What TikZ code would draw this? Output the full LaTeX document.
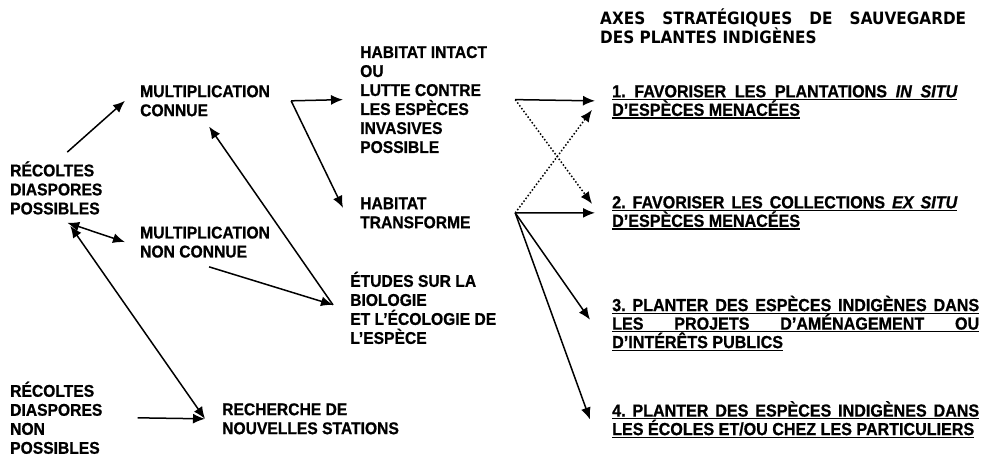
\documentclass[tikz,border=0pt]{standalone}
\usepackage{fontspec}
\setmainfont{Liberation Sans}[FakeStretch=0.92, BoldFeatures={FakeBold=0.8}]
\newfontfamily\headfont{DejaVu Sans}[FakeStretch=0.9]
\newfontfamily\slfont{Liberation Sans Bold Italic}[FakeStretch=0.92, FakeBold=0.8]
\usetikzlibrary{arrows.meta}
\tikzset{>={Latex[width=10pt,length=12pt]}}
\frenchspacing

\newcommand{\ulbox}[1]{\setbox0\hbox{#1}\rlap{\rule[-2.8pt]{\wd0}{1.3pt}}\box0}
\newcommand{\jline}[2]{\ulbox{\makebox[#1][s]{#2}}}
\newcommand{\lat}[1]{{\slfont #1}}

\tikzset{
  lbl/.style={font=\fontsize{17}{19}\selectfont\bfseries, align=left,
    inner sep=0pt, anchor=north west, execute at begin node=\rule{0pt}{16pt}},
  axe/.style={lbl, font=\fontsize{17.5}{18.5}\selectfont\bfseries,
    execute at begin node=\rule{0pt}{16.3pt}},
  head/.style={lbl, font=\headfont\fontsize{17}{19}\selectfont\bfseries,
    execute at begin node=\rule{0pt}{16.6pt}},
  fl/.style={->, line width=1.5pt},
  fld/.style={fl, dotted},
  dfl/.style={<->, line width=1.5pt},
}

\begin{document}
\begin{tikzpicture}[x=1pt,y=-1pt]
  \useasboundingbox (0,0) rectangle (985,456);

  % left part
  \node[lbl] (rp) at (10,161.1) {RÉCOLTES\\DIASPORES\\POSSIBLES};
  \node[lbl] (rn) at (10,381.5) {RÉCOLTES\\DIASPORES\\NON\\POSSIBLES};
  \node[lbl] (mc) at (140,85.1) {MULTIPLICATION\\CONNUE};
  \node[lbl] (mn) at (140,226.4) {MULTIPLICATION\\NON CONNUE};
  \node[lbl] (rs) at (222,403.1) {RECHERCHE DE\\NOUVELLES STATIONS};
  \node[lbl] (hi) at (360,45.9) {HABITAT INTACT\\OU\\LUTTE CONTRE\\LES ESPÈCES\\INVASIVES\\POSSIBLE};
  \node[lbl] (ht) at (360,197.3) {HABITAT\\TRANSFORME};
  \node[lbl] (et) at (350,271.6) {ÉTUDES SUR LA\\BIOLOGIE\\ET L’ÉCOLOGIE DE\\L’ESPÈCE};

  % strategic axes
  \node[head] (tt) at (600,8.5) {\makebox[366pt][s]{AXES STRATÉGIQUES DE SAUVEGARDE}\\DES PLANTES INDIGÈNES};
  \node[axe] (a1) at (612,84.9) {\jline{345pt}{1. FAVORISER LES PLANTATIONS \lat{IN SITU}}\\\ulbox{D’ESPÈCES MENACÉES}};
  \node[axe] (a2) at (612,195.9) {\jline{345pt}{2. FAVORISER LES COLLECTIONS \lat{EX SITU}}\\\ulbox{D’ESPÈCES MENACÉES}};
  \node[axe] (a3) at (612,295.4) {\jline{367pt}{3. PLANTER DES ESPÈCES INDIGÈNES DANS}\\\jline{367pt}{LES PROJETS D’AMÉNAGEMENT OU}\\\ulbox{D’INTÉRÊTS PUBLICS}};
  \node[axe] (a4) at (612,400.9) {\jline{367pt}{4. PLANTER DES ESPÈCES INDIGÈNES DANS}\\\ulbox{LES ÉCOLES ET/OU CHEZ LES PARTICULIERS}};

  \coordinate (br) at ([xshift=21pt]mc.east);
  \coordinate (hout) at ([xshift=28pt]hi.east);
  \coordinate (tout) at (hout |- ht.east);

  \draw[fl] ([shift={(11,-9)}]rp.north) -- ([xshift=-15pt]mc.west);
  \draw[dfl] ([shift={(11,8)}]rp.south) -- ([xshift=-15pt]mn.west);
  \draw[dfl] ([shift={(14,11)}]rp.south) -- ([xshift=-17pt]rs.west);
  \draw[fl] ([xshift=35pt]rn.east) -- ([xshift=-17pt]rs.west);
  \draw[fl] ([shift={(4,9)}]mn.south) -- ([shift={(-17,-3)}]et.west);
  \draw[fl] ([shift={(-17,-3)}]et.west) -- ([shift={(4,10)}]mc.south);

  \draw[fl] (br) -- ([xshift=-17pt]hi.west);
  \draw[fl] (br) -- ([shift={(-17,-5)}]ht.west);

  \draw[fl] (hout) -- ([shift={(-17,-1)}]a1.west);
  \draw[fld] (hout) -- ([shift={(-20,-9)}]a2.west);
  \draw[fld] (tout) -- ([shift={(-20,8)}]a1.west);
  \draw[fl] (tout) -- ([shift={(-17,0)}]a2.west);
  \draw[fl] (tout) -- ([shift={(-22,-3.5)}]a3.west);
  \draw[fl] (tout) -- ([shift={(-22,0)}]a4.west);
\end{tikzpicture}
\end{document}
